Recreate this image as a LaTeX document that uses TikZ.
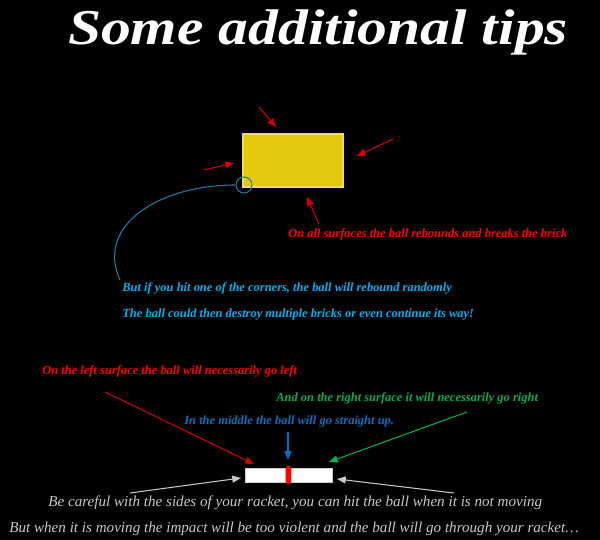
\documentclass[tikz,border=0pt]{standalone}
\usepackage{fontspec}
\usepackage{graphicx}
\setmainfont{Liberation Serif}
\usetikzlibrary{arrows.meta}
\definecolor{BrickYellow}{HTML}{E2C90E}
\definecolor{BrickEdge}{HTML}{F2DC5A}
\definecolor{TipRed}{HTML}{FF0000}
\definecolor{LineRed}{HTML}{D00000}
\definecolor{TipCyan}{HTML}{00B0F0}
\definecolor{CornerBlue}{HTML}{1C7FA0}
\definecolor{TipBlue}{HTML}{0070C0}
\definecolor{TipGreen}{HTML}{00B050}
\definecolor{TipGrey}{HTML}{C8C8C8}

\tikzset{
  hint/.style={font=\bfseries\itshape\fontsize{7.1}{8}\selectfont, inner sep=0pt, anchor=west},
  note/.style={font=\itshape\fontsize{8.6}{10}\selectfont, text=TipGrey, inner sep=0pt, anchor=west},
  pointer/.style={-{Triangle[length=5pt,width=4pt]}, line width=0.6pt},
}

\begin{document}
\begin{tikzpicture}[x=0.02cm,y=-0.02cm]
    \fill[black] (0,0) rectangle (600,540);
    \useasboundingbox (0,0) rectangle (600,540);

    \node[font=\bfseries\itshape\fontsize{28.5}{32}\selectfont, text=white, anchor=base, inner sep=0pt] (title) at (318,45) {\scalebox{1.19}[1]{Some additional tips}};

    \node[draw=BrickEdge, fill=BrickYellow, line width=0.8pt, minimum width=2cm, minimum height=1.06cm, inner sep=0pt] (brick) at (293,160.5) {};
    \node[draw=CornerBlue, circle, minimum size=0.32cm, inner sep=0pt, line width=0.6pt] (ball) at (244,185) {};

    \coordinate (from1) at (259,107); \coordinate (to1) at (276,127);
    \coordinate (from2) at (204,170); \coordinate (to2) at (234,163);
    \coordinate (from3) at (393,139); \coordinate (to3) at (357,156);
    \coordinate (from4) at (319,224); \coordinate (to4) at (307,197);
    \foreach \i in {1,...,4}
        \draw[pointer, LineRed] (from\i) -- (to\i);

    \coordinate (curveend) at (120,280);
    \draw[CornerBlue, line width=0.6pt] (ball.west) .. controls (160,185) and (95,225) .. (curveend);

    \node[hint, text=TipRed] (alltxt) at (288,234) {On all surfaces the ball rebounds and breaks the brick};
    \node[hint, text=TipCyan] (cornertxt) at (122,288) {But if you hit one of the corners, the ball will rebound randomly};
    \node[hint, text=TipCyan] (multitxt) at (122,315) {The ball could then destroy multiple bricks or even continue its way!};

    \node[hint, text=TipRed] (lefttxt) at (42,371) {On the left surface the ball will necessarily go left};
    \node[hint, text=TipGreen] (righttxt) at (276,398) {And on the right surface it will necessarily go right};
    \node[hint, text=TipBlue] (midtxt) at (184,422) {In the middle the ball will go straight up.};

    \node[draw=TipGrey, fill=white, minimum width=1.74cm, minimum height=0.28cm, inner sep=0pt, line width=0.5pt] (racket) at (288.5,475) {};
    \node[fill=red, rounded corners=1.5pt, minimum width=0.12cm, minimum height=0.36cm, inner sep=0pt] (stripe) at (racket.center) {};

    \coordinate (leftfrom) at (105,392);   \coordinate (leftto) at (254,464);
    \coordinate (midfrom) at (288,432);    \coordinate (midto) at (288,460);
    \coordinate (rightfrom) at (467,412);  \coordinate (rightto) at (329,462);
    \coordinate (sidefromL) at (130,493);  \coordinate (sidetoL) at (241,478);
    \coordinate (sidefromR) at (454,493);  \coordinate (sidetoR) at (337,479);
    \draw[pointer, LineRed] (leftfrom) -- (leftto);
    \draw[pointer, TipBlue] (midfrom) -- (midto);
    \draw[pointer, TipGreen] (rightfrom) -- (rightto);
    \draw[pointer, TipGrey] (sidefromL) -- (sidetoL);
    \draw[pointer, TipGrey] (sidefromR) -- (sidetoR);

    \node[note] (sidetxt) at (48,503) {Be careful with the sides of your racket, you can hit the ball when it is not moving};
    \node[note] (violenttxt) at (9,529) {But when it is moving the impact will be too violent and the ball will go through your racket…};
  \end{tikzpicture}
\end{document}
